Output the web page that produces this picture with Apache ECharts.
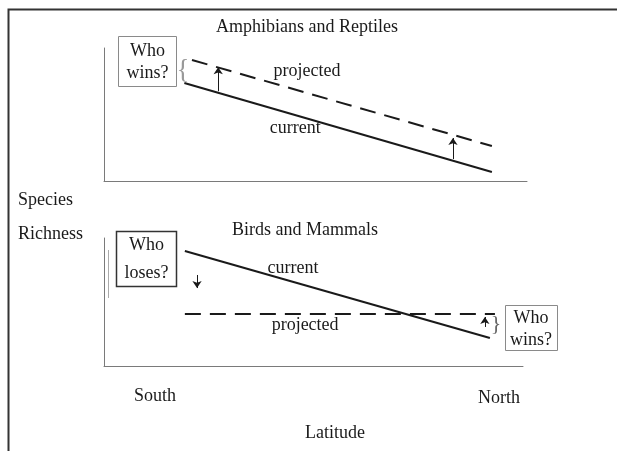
<!DOCTYPE html>
<html>
<head>
<meta charset="utf-8">
<script src="https://cdn.jsdelivr.net/npm/echarts@6/dist/echarts.min.js"></script>
<style>
  html, body { margin: 0; padding: 0; background: #fff; }
  #main { width: 617px; height: 451px; }
</style>
</head>
<body>
<div id="main"></div>
<script>
// latitude runs 0 (south) .. 100 (north), richness 0 .. 100 in each panel
var topCurrent = [[19, 73.7], [91.7, 6.8]];
var topProjected = [[20.8, 91], [91.7, 26.3]];
var botCurrent = [[19.3, 89.8], [92.1, 21.9]];
var botProjected = [[19.3, 40.6], [93.3, 40.6]];
var topArrows = [[[27, 67.5], [27, 85.5]], [[82.5, 16.5], [82.5, 32.3]]];
var botArrows = [[[22.2, 71.1], [22.2, 60.9]], [[90.9, 30.5], [90.9, 38.3]]];
var topLabels = [['projected', 48, 82.7], ['current', 45.2, 39.8]];
var botLabels = [['current', 45.1, 76.6], ['projected', 48, 32]];

var serif = 'Liberation Serif';
var ink = '#1a1a1a';

var dom = document.getElementById('main');
var myChart = echarts.init(dom, null, { renderer: 'canvas' });

function axisX(idx) {
    return {
        type: 'value', gridIndex: idx, min: 0, max: 100,
        axisLine: { show: true, lineStyle: { color: '#7a7a7a', width: 1 } },
        axisTick: { show: false }, axisLabel: { show: false }, splitLine: { show: false }
    };
}
function axisY(idx) {
    return {
        type: 'value', gridIndex: idx, min: 0, max: 100,
        axisLine: { show: true, lineStyle: { color: '#7a7a7a', width: 1 } },
        axisTick: { show: false }, axisLabel: { show: false }, splitLine: { show: false }
    };
}
function trend(idx, data, dashed) {
    return {
        type: 'line', xAxisIndex: idx, yAxisIndex: idx, data: data,
        symbol: 'none', silent: true,
        lineStyle: { color: ink, width: 2, type: dashed ? [16, 9] : 'solid' }
    };
}
function arrows(idx, list) {
    return {
        type: 'lines', coordinateSystem: 'cartesian2d', xAxisIndex: idx, yAxisIndex: idx,
        data: list.map(function (c) { return { coords: c }; }),
        symbol: ['none', 'arrow'], symbolSize: 7,
        lineStyle: { color: ink, width: 1, opacity: 1 }
    };
}
function words(idx, list) {
    return {
        type: 'scatter', xAxisIndex: idx, yAxisIndex: idx, symbolSize: 0,
        itemStyle: { opacity: 1 },
        data: list.map(function (d) { return { name: d[0], value: [d[1], d[2]] }; }),
        label: {
            show: true, position: 'inside', formatter: '{b}',
            fontFamily: serif, fontSize: 18, color: ink
        }
    };
}
function txt(s, x, y, size, align) {
    return {
        type: 'text', x: x, y: y,
        style: {
            text: s, fontFamily: serif, fontSize: size || 18, fill: ink,
            align: align || 'center', verticalAlign: 'middle'
        }
    };
}
function box(x, y, w, h, color, width) {
    return {
        type: 'rect', shape: { x: x, y: y, width: w, height: h },
        style: { fill: 'none', stroke: color, lineWidth: width }
    };
}

var option = {
    animation: false,
    grid: [
        { left: 104, top: 48, width: 423, height: 133 },
        { left: 104, top: 238, width: 419, height: 128 }
    ],
    xAxis: [axisX(0), axisX(1)],
    yAxis: [axisY(0), axisY(1)],
    series: [
        trend(0, topCurrent, false),
        trend(0, topProjected, true),
        trend(1, botCurrent, false),
        trend(1, botProjected, true),
        arrows(0, topArrows),
        arrows(1, botArrows),
        words(0, topLabels),
        words(1, botLabels)
    ],
    graphic: [
        // page frame
        { type: 'polyline', shape: { points: [[8.5, 451], [8.5, 9.5], [617, 9.5]] },
          style: { stroke: '#333', lineWidth: 2, fill: 'none' } },
        { type: 'line', shape: { x1: 108.5, y1: 250, x2: 108.5, y2: 298 },
          style: { stroke: '#aaa', lineWidth: 1 } },
        txt('Amphibians and Reptiles', 307, 27),
        txt('Birds and Mammals', 305, 230),
        txt('Species', 18, 200, 18, 'left'),
        txt('Richness', 18, 234, 18, 'left'),
        txt('South', 155, 396),
        txt('North', 499, 398),
        txt('Latitude', 335, 433),
        box(118.5, 36.5, 58, 50, '#8a8a8a', 1),
        txt('Who', 147.5, 51),
        txt('wins?', 147.5, 73),
        { type: 'text', x: 183, y: 71,
          style: { text: '{', fontFamily: serif, fontSize: 27, fill: '#999', align: 'center', verticalAlign: 'middle' } },
        box(116.5, 231.5, 60, 55, '#333', 1.5),
        txt('Who', 146.5, 245),
        txt('loses?', 146.5, 273),
        box(505.5, 305.5, 52, 45, '#8a8a8a', 1),
        txt('Who', 531, 318),
        txt('wins?', 531, 340),
        { type: 'text', x: 496, y: 324,
          style: { text: '}', fontFamily: serif, fontSize: 22, fill: '#666', align: 'center', verticalAlign: 'middle' } }
    ]
};

myChart.setOption(option);
window.addEventListener('resize', myChart.resize);
</script>
</body>
</html>
